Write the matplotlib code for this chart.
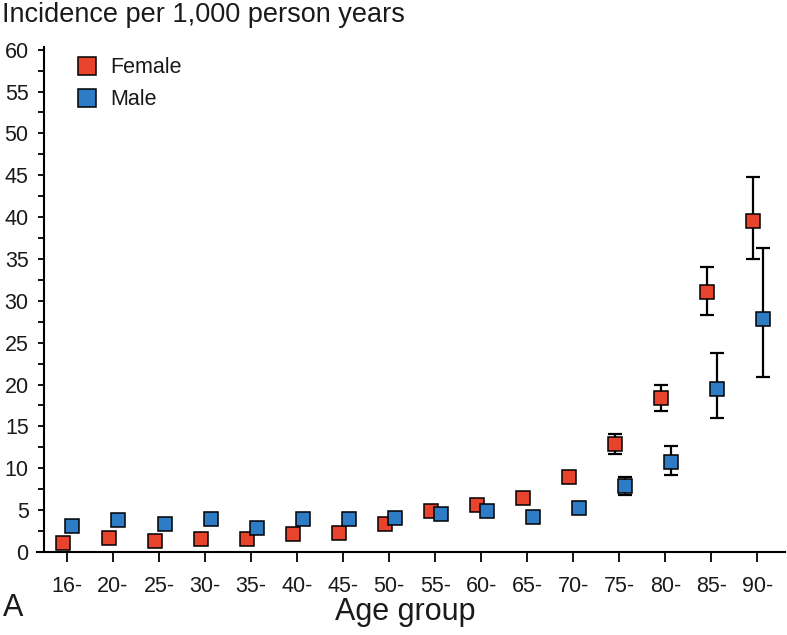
#!/usr/bin/env python3

import numpy as np
import matplotlib
matplotlib.use('Agg')
import matplotlib.pyplot as plt
from matplotlib.ticker import MultipleLocator

age_groups = ['16-', '20-', '25-', '30-', '35-', '40-', '45-', '50-',
              '55-', '60-', '65-', '70-', '75-', '80-', '85-', '90-']

female = [1.1, 1.7, 1.3, 1.5, 1.5, 2.2, 2.3, 3.3, 4.9, 5.6, 6.4, 9.0, 12.9, 18.4, 31.0, 39.5]
female_low = [0.7, 1.3, 1.0, 1.2, 1.1, 1.8, 1.8, 2.9, 4.4, 5.1, 5.8, 8.4, 11.7, 16.8, 28.3, 35.0]
female_high = [1.5, 2.2, 1.7, 1.9, 2.0, 2.7, 2.9, 3.8, 5.4, 6.1, 7.0, 9.6, 14.1, 20.0, 34.1, 44.8]

male = [3.1, 3.8, 3.4, 4.0, 2.9, 4.0, 4.0, 4.1, 4.5, 4.9, 4.2, 5.3, 7.9, 10.8, 19.5, 27.8]
male_low = [2.6, 3.3, 2.9, 3.4, 2.4, 3.5, 3.4, 3.6, 4.0, 4.4, 3.7, 4.6, 6.8, 9.2, 16.0, 20.9]
male_high = [3.6, 4.3, 3.9, 4.6, 3.4, 4.5, 4.6, 4.6, 5.0, 5.4, 4.7, 6.0, 8.9, 12.7, 23.8, 36.3]

RED = '#e8432c'
BLUE = '#2f7cc6'
TEXT = '#1a1a1a'

plt.rcParams['font.family'] = ['Liberation Sans', 'DejaVu Sans']


def plot_series(ax, x, vals, low, high, color, label):
    vals = np.array(vals)
    yerr = [vals - np.array(low), np.array(high) - vals]
    ax.errorbar(x, vals, yerr=yerr, fmt='none', ecolor='black',
                elinewidth=1.6, capsize=4.8, capthick=1.6, zorder=2)
    ax.plot(x, vals, linestyle='none', marker='s', markersize=9.5,
            markerfacecolor=color, markeredgecolor='black',
            markeredgewidth=1.1, label=label, zorder=3)


fig = plt.figure(figsize=(7.87, 6.35), dpi=100)
ax = fig.add_axes([0.047, 0.1307, 0.9505, 0.795])

x = np.arange(len(age_groups))
plot_series(ax, x - 0.09, female, female_low, female_high, RED, 'Female')
plot_series(ax, x + 0.12, male, male_low, male_high, BLUE, 'Male')

ax.set_xlim(-0.65, 15.6)
ax.set_ylim(0, 60.3)
ax.set_xticks(x)
ax.set_xticklabels(age_groups)
ax.yaxis.set_major_locator(MultipleLocator(5))
ax.yaxis.set_minor_locator(MultipleLocator(2.5))

for side in ['top', 'right']:
    ax.spines[side].set_visible(False)
ax.spines['left'].set_position(('outward', -5))
ax.spines['left'].set_linewidth(1.5)
ax.spines['bottom'].set_linewidth(1.5)

ax.tick_params(axis='y', which='major', length=4, width=1.3, pad=7,
               labelsize=15.5, labelcolor=TEXT)
ax.tick_params(axis='y', which='minor', length=4, width=1.3)
ax.tick_params(axis='x', which='major', length=7, width=1.3, pad=10,
               labelsize=15.5, labelcolor=TEXT)

fig.text(0.002, 0.977, 'Incidence per 1,000 person years', fontsize=19.5,
         ha='left', va='center', color=TEXT)
fig.text(0.515, 0.036, 'Age group', fontsize=22, ha='center', va='center',
         color=TEXT)
fig.text(0.004, 0.043, 'A', fontsize=22, ha='left', va='center', color=TEXT)

ax.legend(loc='upper left', bbox_to_anchor=(0.041, 0.997), frameon=False,
          fontsize=15.5, markerscale=1.35, handlelength=1.0, handletextpad=0.6,
          labelspacing=0.5, borderaxespad=0, labelcolor=TEXT)

fig.savefig('out.png', dpi=100)
